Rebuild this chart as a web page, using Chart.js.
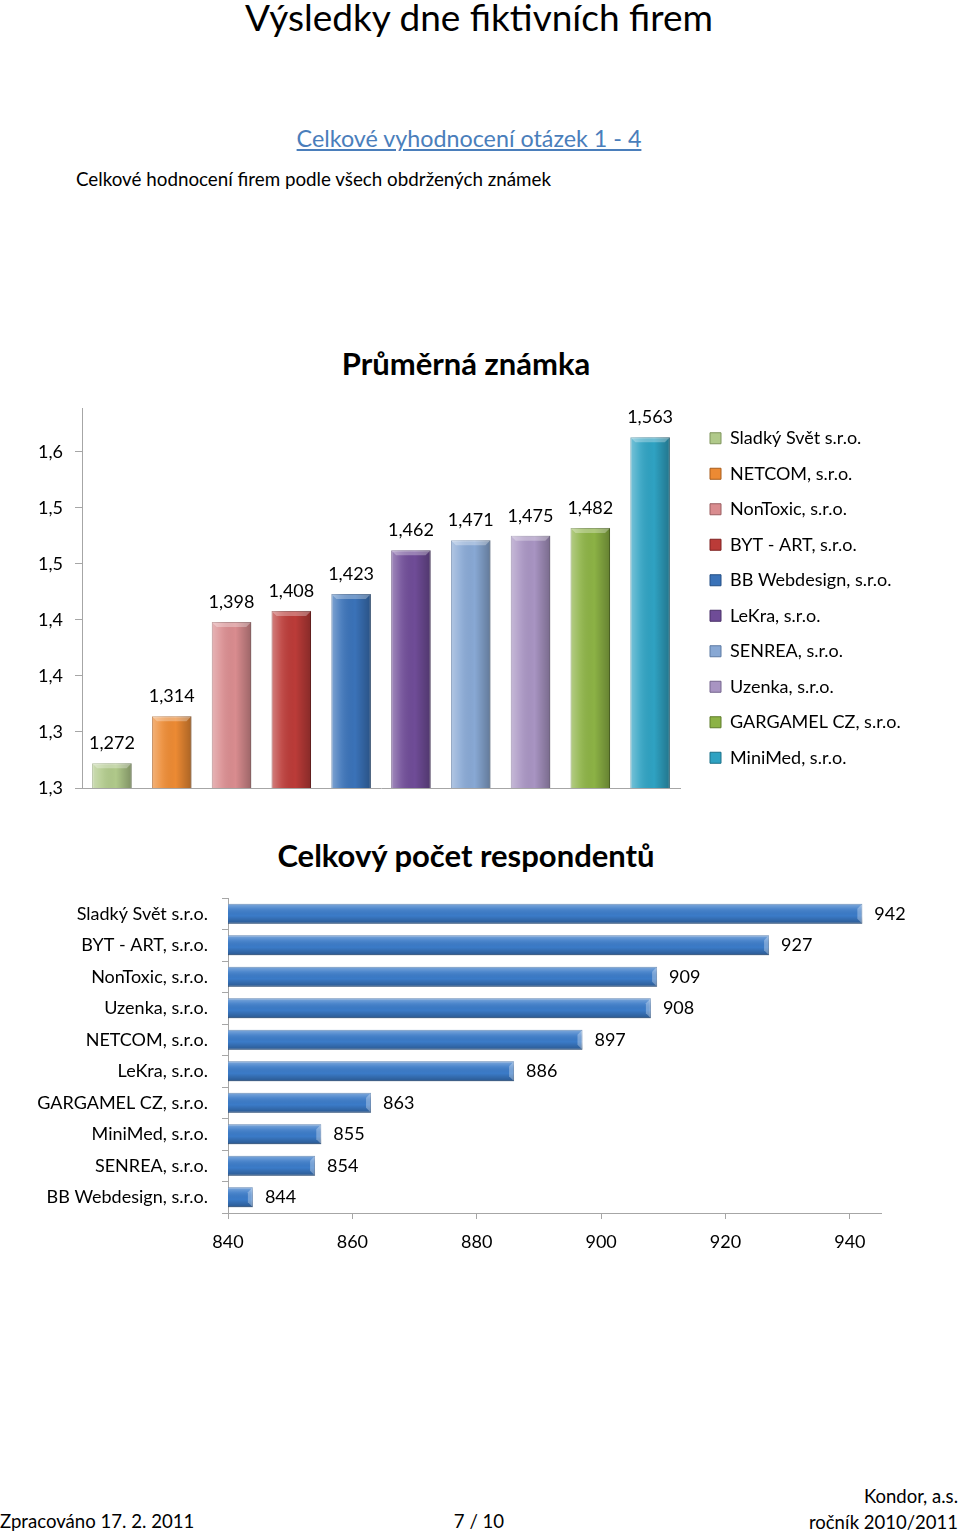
<!DOCTYPE html>
<html>
<head>
<meta charset="utf-8">
<title>Výsledky dne fiktivních firem</title>
<style>
  body { margin: 0; width: 960px; height: 1537px; position: relative; background: #fff; overflow: hidden;
         font-family: Lato, "Noto Sans", sans-serif; color: #000; }
  .t { position: absolute; white-space: nowrap; line-height: 1; }
  .c { transform: translateX(-50%); }
  canvas { position: absolute; left: 0; }
</style>
</head>
<body>
  <div class="t c" style="left:479px; top:-2px; font-size:37px;">Výsledky dne fiktivních firem</div>
  <div class="t c" style="left:469px; top:127px; font-size:23.3px; color:#4a7ebb; text-decoration:underline;">Celkové vyhodnocení otázek 1 - 4</div>
  <div class="t" style="left:76px; top:170px; font-size:18.8px;">Celkové hodnocení firem podle všech obdržených známek</div>

  <div class="t c" style="left:466px; top:348px; font-size:31px; font-weight:bold;">Průměrná známka</div>
  <canvas id="grades" width="960" height="410" style="top:395px"></canvas>

  <div class="t c" style="left:466px; top:840px; font-size:31px; font-weight:bold;">Celkový počet respondentů</div>
  <canvas id="resp" width="960" height="373" style="top:885px"></canvas>

  <div class="t" style="left:0; top:1512px; font-size:18.6px;">Zpracováno 17. 2. 2011</div>
  <div class="t c" style="left:479px; top:1512px; font-size:18.6px;">7 / 10</div>
  <div class="t" style="right:2px; top:1487px; font-size:18.5px;">Kondor, a.s.</div>
  <div class="t" style="right:2px; top:1513px; font-size:18.5px;">ročník 2010/2011</div>

  <script src="https://cdn.jsdelivr.net/npm/chart.js"></script>
  <script>
    // average grade per company (top chart)
    const gradeCompanies = ['Sladký Svět s.r.o.', 'NETCOM, s.r.o.', 'NonToxic, s.r.o.', 'BYT - ART, s.r.o.',
      'BB Webdesign, s.r.o.', 'LeKra, s.r.o.', 'SENREA, s.r.o.', 'Uzenka, s.r.o.', 'GARGAMEL CZ, s.r.o.', 'MiniMed, s.r.o.'];
    const grades = [1.272, 1.314, 1.398, 1.408, 1.423, 1.462, 1.471, 1.475, 1.482, 1.563];
    const gradeColors = ['#b0c98a', '#ec8a33', '#d98c8f', '#bb3b38', '#3a72b8', '#6f4c97', '#88a8d4', '#a894c2', '#8cb245', '#2fa2c2'];
    const gradeEdges = ['#7f955d', '#a85d1c', '#9a5e60', '#7f2322', '#244f85', '#4a3068', '#5c7aa3', '#76668f', '#5f7d2b', '#1d7088'];

    // respondents per company (bottom chart)
    const respCompanies = ['Sladký Svět s.r.o.', 'BYT - ART, s.r.o.', 'NonToxic, s.r.o.', 'Uzenka, s.r.o.', 'NETCOM, s.r.o.',
      'LeKra, s.r.o.', 'GARGAMEL CZ, s.r.o.', 'MiniMed, s.r.o.', 'SENREA, s.r.o.', 'BB Webdesign, s.r.o.'];
    const respCounts = [942, 927, 909, 908, 897, 886, 863, 855, 854, 844];

    const axisGray = '#a6a6a6';
    const fontFamily = 'Lato, "Noto Sans", sans-serif';
    Chart.defaults.font.family = fontFamily;
    Chart.defaults.font.size = 18;
    Chart.defaults.color = '#000';

    // shading so the bars look a bit like the excel 3d ones
    const bevel = {
      id: 'bevel',
      afterDatasetsDraw(chart) {
        const ctx = chart.ctx;
        const area = chart.chartArea;
        const horiz = chart.options.indexAxis === 'y';
        ctx.save();
        ctx.beginPath();
        ctx.rect(area.left, area.top, area.right - area.left, area.bottom - area.top);
        ctx.clip();
        chart.data.datasets.forEach((ds, di) => {
          chart.getDatasetMeta(di).data.forEach(el => {
            let l, t, w, h;
            if (horiz) {
              t = el.y - el.height / 2; h = el.height;
              l = Math.max(Math.min(el.base, el.x), area.left);
              w = el.x - l;
            } else {
              l = el.x - el.width / 2; w = el.width;
              t = el.y;
              h = Math.min(el.base, area.bottom) - t;
            }
            const g = horiz ? ctx.createLinearGradient(0, t, 0, t + h) : ctx.createLinearGradient(l, 0, l + w, 0);
            g.addColorStop(0, 'rgba(255,255,255,0.35)');
            g.addColorStop(0.25, 'rgba(255,255,255,0.1)');
            g.addColorStop(0.6, 'rgba(0,0,0,0)');
            g.addColorStop(1, 'rgba(0,0,0,0.28)');
            ctx.fillStyle = g;
            ctx.fillRect(l, t, w, h);
            const cap = 5;
            ctx.fillStyle = 'rgba(255,255,255,0.3)';
            ctx.beginPath();
            if (horiz) {
              ctx.moveTo(l + w, t); ctx.lineTo(l + w - cap, t + cap);
              ctx.lineTo(l + w - cap, t + h - cap); ctx.lineTo(l + w, t + h);
            } else {
              ctx.moveTo(l, t); ctx.lineTo(l + w, t);
              ctx.lineTo(l + w - cap, t + cap); ctx.lineTo(l + cap, t + cap);
            }
            ctx.closePath();
            ctx.fill();
          });
        });
        ctx.restore();
      }
    };

    // value next to / above each bar
    const valueLabels = {
      id: 'valueLabels',
      afterDatasetsDraw(chart, args, opts) {
        const ctx = chart.ctx;
        const horiz = chart.options.indexAxis === 'y';
        ctx.save();
        ctx.font = '18px ' + fontFamily;
        ctx.fillStyle = '#000';
        ctx.textBaseline = 'middle';
        chart.data.datasets.forEach((ds, di) => {
          chart.getDatasetMeta(di).data.forEach((el, i) => {
            const txt = opts.format(ds.data[i]);
            if (horiz) {
              ctx.textAlign = 'left';
              ctx.fillText(txt, el.x + opts.offset, el.y);
            } else {
              ctx.textAlign = 'center';
              ctx.fillText(txt, el.x, el.y - opts.offset);
            }
          });
        });
        ctx.restore();
      }
    };

    const oneDecimal = v => (Math.round(v * 10 + 1e-9) / 10).toFixed(1).replace('.', ',');
    const noEdgePad = s => { s.paddingTop = 0; s.paddingBottom = 0; };

    // legend width, so the legend boxes land at x = 710
    const mctx = document.createElement('canvas').getContext('2d');
    mctx.font = '18px ' + fontFamily;
    const legendText = Math.max(...gradeCompanies.map(n => mctx.measureText(n).width));
    const legendPad = 17.5;
    const legendWidth = legendPad + 11 + 9 + legendText + 10;
    const rightPad = 960 - (710 - legendPad) - legendWidth;

    new Chart(document.getElementById('grades'), {
      type: 'bar',
      data: {
        labels: [''],
        datasets: gradeCompanies.map((name, i) => ({
          label: name,
          data: [grades[i]],
          yAxisID: 'y',
          backgroundColor: gradeColors[i],
          borderColor: gradeEdges[i],
          borderWidth: 1
        }))
      },
      options: {
        responsive: false,
        animation: false,
        layout: { padding: { left: 38, right: rightPad, top: 13, bottom: 17 } },
        datasets: { bar: { categoryPercentage: 1, barPercentage: 0.66 } },
        scales: {
          x: {
            grid: { drawOnChartArea: false, drawTicks: false },
            ticks: { display: false },
            border: { color: axisGray },
            afterFit(s) { s.height = 0; s.paddingLeft = 0; s.paddingRight = 0; }
          },
          y: {
            min: 1.25,
            max: 1.589,
            ticks: { stepSize: 0.05, includeBounds: false, padding: 12, callback: v => oneDecimal(v) },
            grid: { drawOnChartArea: false, tickLength: 7, color: axisGray },
            border: { color: axisGray },
            afterFit(s) { s.width = 44; noEdgePad(s); }
          },
          // empty strip between plot and legend
          pad: {
            position: 'right',
            grid: { display: false },
            ticks: { display: false },
            border: { display: false },
            afterFit(s) { s.width = 12.5; noEdgePad(s); }
          }
        },
        plugins: {
          legend: {
            position: 'right',
            maxWidth: legendWidth + 30,
            labels: { boxWidth: 11, boxHeight: 11, padding: legendPad }
          },
          tooltip: { enabled: false },
          valueLabels: { offset: 20, format: v => v.toFixed(3).replace('.', ',') }
        }
      },
      plugins: [bevel, valueLabels]
    });

    new Chart(document.getElementById('resp'), {
      type: 'bar',
      data: {
        labels: respCompanies,
        datasets: [{
          data: respCounts,
          backgroundColor: '#3b7bc8',
          borderColor: '#2a5b98',
          borderWidth: 1
        }]
      },
      options: {
        indexAxis: 'y',
        responsive: false,
        animation: false,
        layout: { padding: { left: 0, right: 79, top: 13, bottom: 5 } },
        datasets: { bar: { categoryPercentage: 1, barPercentage: 0.63 } },
        scales: {
          x: {
            min: 840,
            max: 945,
            ticks: { stepSize: 20, includeBounds: false, padding: 12 },
            grid: { drawOnChartArea: false, tickLength: 6, color: axisGray },
            border: { color: axisGray },
            afterFit(s) { s.height = 40; s.paddingLeft = 0; s.paddingRight = 0; }
          },
          y: {
            ticks: { padding: 14 },
            grid: { drawOnChartArea: false, tickLength: 6, color: axisGray },
            border: { color: axisGray },
            afterFit(s) { s.width = 228; noEdgePad(s); }
          }
        },
        plugins: {
          legend: { display: false },
          tooltip: { enabled: false },
          valueLabels: { offset: 12, format: v => String(v) }
        }
      },
      plugins: [bevel, valueLabels]
    });
  </script>
</body>
</html>
